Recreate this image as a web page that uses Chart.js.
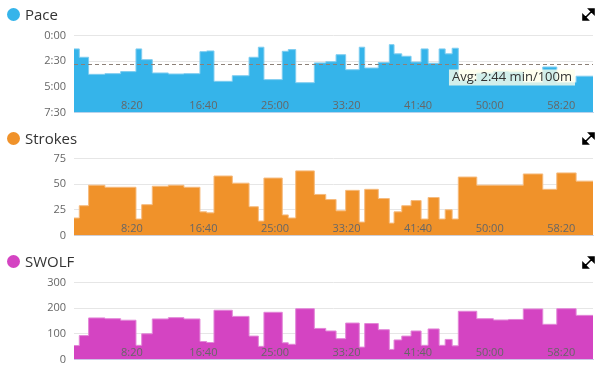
<!DOCTYPE html>
<html>
<head>
<meta charset="utf-8">
<script src="https://cdn.jsdelivr.net/npm/chart.js@4.4.1/dist/chart.umd.min.js"></script>
<style>
  body { margin: 0; background: #fff; font-family: "Open Sans", sans-serif; }
  #wrap { position: relative; width: 605px; height: 367px; overflow: hidden; }
  .titulo { position: absolute; left: 7px; height: 18px; font-size: 15px; color: #333; line-height: 18px; z-index: 2; }
  .titulo span { display: inline-block; width: 13px; height: 13px; border-radius: 50%; vertical-align: -1px; margin-right: 5px; }
  .painel { position: absolute; left: 0; width: 605px; height: 106px; }
  .expandir { position: absolute; left: 582px; width: 13px; height: 13px; z-index: 2; }
</style>
</head>
<body>
<div id="wrap">
  <div class="painel" style="top:21px"><canvas id="grafPace"></canvas></div>
  <div class="painel" style="top:144px"><canvas id="grafStrokes"></canvas></div>
  <div class="painel" style="top:268px"><canvas id="grafSwolf"></canvas></div>

  <div class="titulo" style="top:5px"><span style="background:#35b4ea"></span>Pace</div>
  <div class="titulo" style="top:129px"><span style="background:#f0922a"></span>Strokes</div>
  <div class="titulo" style="top:252px"><span style="background:#d444c2"></span>SWOLF</div>

  <svg class="expandir" style="top:8px" viewBox="0 0 13 13"><path d="M7 1h5v5z M1 7v5h5z M6 7L10 3 M3 10L7 6" stroke="#000" stroke-width="1.6" fill="#000"/></svg>
  <svg class="expandir" style="top:132px" viewBox="0 0 13 13"><path d="M7 1h5v5z M1 7v5h5z M6 7L10 3 M3 10L7 6" stroke="#000" stroke-width="1.6" fill="#000"/></svg>
  <svg class="expandir" style="top:256px" viewBox="0 0 13 13"><path d="M7 1h5v5z M1 7v5h5z M6 7L10 3 M3 10L7 6" stroke="#000" stroke-width="1.6" fill="#000"/></svg>
</div>

<script>
/* inicio de cada volta (segundos) e fim do treino */
var inicio_voltas = [96, 133, 198, 312, 422, 529, 569, 643, 755, 864, 976, 1023, 1074, 1202, 1319, 1384, 1423, 1551, 1593, 1645, 1775, 1855,
  1927, 1994, 2089, 2127, 2222, 2299, 2332, 2386, 2451, 2521, 2570, 2647, 2689, 2738, 2781, 2910, 3026, 3131, 3235, 3371, 3469, 3604];
var fim_treino = 3722;

/* ritmo em segundos por 100m */
var pace = [78, 127, 227, 223, 211, 78, 141, 219, 225, 223, 94, 90, 268, 235, 127, 68, 258, 92, 82, 276, 160, 153,
  112, 200, 68, 190, 158, 53, 107, 121, 155, 78, 162, 78, 107, 74, 262, 220, 210, 214, 274, 184, 274, 238];

var strokes = [17, 29, 49, 47, 47, 16, 30, 48, 49, 47, 23, 22, 58, 51, 28, 14, 56, 20, 17, 63, 40, 35,
  24, 44, 13, 45, 36, 12, 23, 29, 34, 16, 37, 16, 25, 16, 57, 49, 49, 49, 60, 45, 61, 53];

var swolf = [54, 93, 162, 159, 153, 55, 100, 158, 163, 158, 70, 66, 192, 168, 91, 51, 184, 65, 59, 198, 121, 111,
  81, 142, 48, 140, 116, 39, 76, 91, 111, 55, 119, 55, 78, 53, 188, 159, 154, 156, 197, 137, 198, 172];

var ticks_pace = [0, 150, 300, 450];
var ticks_strokes = [0, 25, 50, 75];
var ticks_swolf = [0, 100, 200, 300];
var ticks_tempo = [500, 1000, 1500, 2000, 2500, 3000, 3500];

var media_pace = 164;
var texto_media = 'Avg: 2:44 min/100m';

function minSeg(v) {
  var m = Math.floor(v / 60);
  var s = Math.round(v % 60);
  return m + ':' + (s < 10 ? '0' : '') + s;
}

function pontos(valores) {
  var lista = inicio_voltas.map(function (t, i) { return { x: t, y: valores[i] }; });
  lista.push({ x: fim_treino, y: valores[valores.length - 1] });
  return lista;
}

/* rótulos do eixo x desenhados por dentro da área */
var rotulosTempo = {
  id: 'rotulosTempo',
  afterDatasetsDraw: function (chart) {
    var ctx = chart.ctx;
    var x = chart.scales.x;
    var area = chart.chartArea;
    ctx.save();
    ctx.font = '11px "Open Sans"';
    ctx.fillStyle = '#666';
    ctx.textAlign = 'center';
    ctx.textBaseline = 'middle';
    ticks_tempo.forEach(function (t) {
      ctx.fillText(minSeg(t), x.getPixelForValue(t), area.bottom - 7);
    });
    ctx.restore();
  }
};

/* linha da média do ritmo */
var linhaMedia = {
  id: 'linhaMedia',
  afterDatasetsDraw: function (chart) {
    if (chart.canvas.id !== 'grafPace') return;
    var ctx = chart.ctx;
    var area = chart.chartArea;
    var y = Math.round(chart.scales.y.getPixelForValue(media_pace)) + 0.5;
    ctx.save();
    ctx.strokeStyle = '#8c8077';
    ctx.lineWidth = 1;
    ctx.setLineDash([4, 3]);
    ctx.beginPath();
    ctx.moveTo(area.left, y);
    ctx.lineTo(area.right, y);
    ctx.stroke();
    ctx.setLineDash([]);
    ctx.font = '13px "Open Sans"';
    var w = ctx.measureText(texto_media).width;
    var xr = area.right - 18;
    ctx.fillStyle = 'rgba(255,255,235,0.78)';
    ctx.fillRect(xr - w - 6, y + 5, w + 6, 16);
    ctx.fillStyle = '#333';
    ctx.textAlign = 'right';
    ctx.textBaseline = 'middle';
    ctx.fillText(texto_media, xr - 3, y + 13);
    ctx.restore();
  }
};

function Grafico(id, valores, cor, corLinha, yTicks, inverter, formato) {
  var ctx = document.getElementById(id).getContext('2d');
  var base = inverter ? yTicks[yTicks.length - 1] : 0;
  return new Chart(ctx, {
    type: 'line',
    data: {
      datasets: [{
        data: pontos(valores),
        stepped: true,
        backgroundColor: cor,
        borderColor: corLinha,
        borderWidth: 1,
        pointRadius: 0,
        fill: { value: base }
      }]
    },
    options: {
      responsive: true,
      maintainAspectRatio: false,
      animation: false,
      layout: { padding: { top: 8, right: 12, bottom: 0, left: 0 } },
      plugins: { legend: { display: false }, tooltip: { enabled: false } },
      scales: {
        x: {
          type: 'linear',
          min: inicio_voltas[0],
          max: fim_treino,
          ticks: { display: false },
          grid: { display: false, drawTicks: false },
          border: { display: true, color: '#ccd6eb', width: 1 }
        },
        y: {
          min: yTicks[0],
          max: yTicks[yTicks.length - 1],
          reverse: inverter,
          afterBuildTicks: function (s) { s.ticks = yTicks.map(function (v) { return { value: v }; }); },
          afterFit: function (s) { s.width = 74; },
          ticks: {
            padding: 8,
            color: '#666',
            font: { family: 'Open Sans', size: 11 },
            callback: formato
          },
          grid: { color: '#e6e6e6', drawTicks: false },
          border: { display: false }
        }
      }
    },
    plugins: [rotulosTempo, linhaMedia]
  });
}

Grafico('grafPace', pace, '#35b4ea', '#7fcdf0', ticks_pace, true, function (v) { return minSeg(v); });
Grafico('grafStrokes', strokes, '#f0922a', '#f6bb7e', ticks_strokes, false, function (v) { return v; });
Grafico('grafSwolf', swolf, '#d444c2', '#e387d8', ticks_swolf, false, function (v) { return v; });
</script>
</body>
</html>
